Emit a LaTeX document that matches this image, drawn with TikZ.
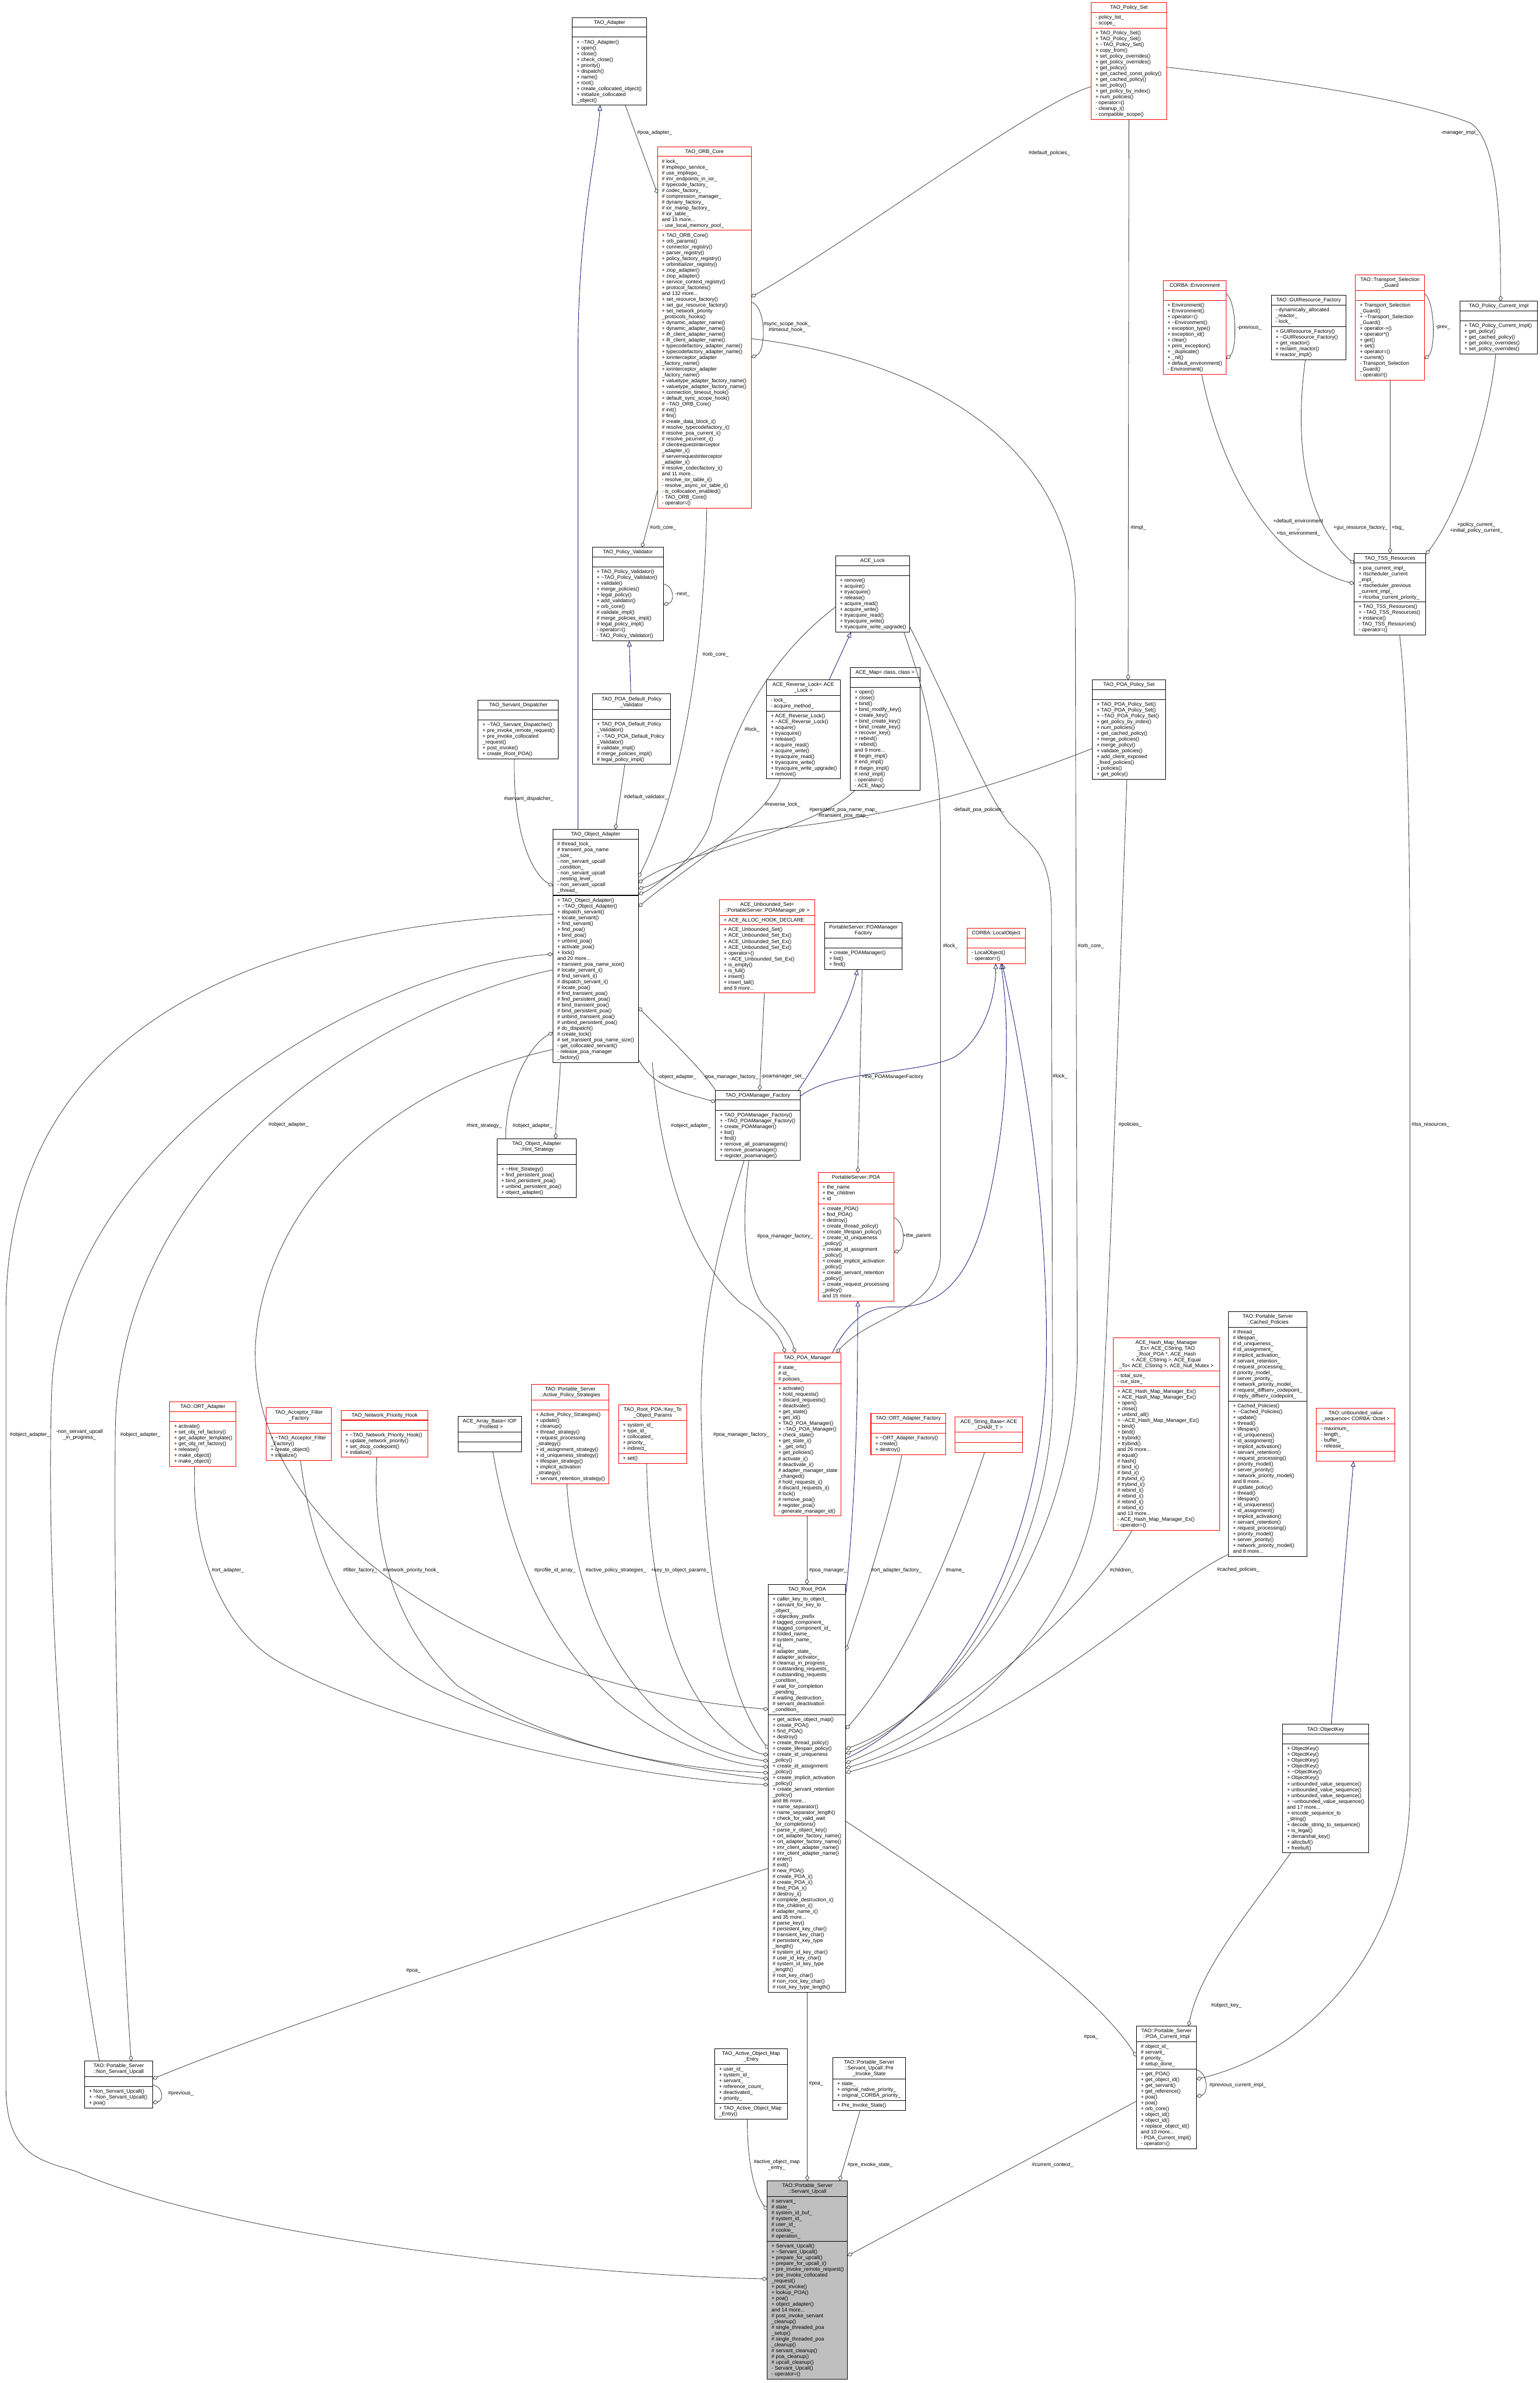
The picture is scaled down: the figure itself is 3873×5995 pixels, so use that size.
\documentclass[tikz,border=0pt]{standalone}
\usepackage{fontspec}
\setmainfont{Liberation Sans}
\usetikzlibrary{arrows.meta,calc}
\definecolor{edgec}{HTML}{404040}
\definecolor{inhc}{HTML}{191970}
\definecolor{redb}{HTML}{FF0000}
\definecolor{grayf}{HTML}{BFBFBF}
\newcommand\fs{\fontsize{2.6pt}{2.93pt}\selectfont}
\tikzset{
 bk/.style={draw=black,fill=white},
 rd/.style={draw=redb,fill=white},
 gy/.style={draw=black,fill=grayf},
 boxn/.style={inner sep=0pt,outer sep=0pt,anchor=north west,line width=0.3pt},
 ttl/.style={font=\fs,inner sep=0pt,anchor=north,align=center},
 txt/.style={font=\fs,inner sep=0pt,anchor=north west,align=left},
 lbl/.style={font=\fs,inner sep=0pt,align=center},
 agg/.style={draw=edgec,line width=0.25pt,-{Diamond[open,length=2.9pt,width=2.1pt,line width=0.25pt]}},
 inh/.style={draw=inhc,line width=0.25pt,-{Triangle[open,length=2.7pt,width=2.3pt,line width=0.25pt]}},
}
\catcode`\_=12
\newcommand\ubox[8]{%
 \pgfmathsetmacro\uhT{#6*14.65+10}%
 \pgfmathsetmacro\uhA{#7==0 ? 25 : #7*14.65+10}%
 \pgfmathsetmacro\uhM{#8==0 ? 25 : #8*14.65+10}%
 \pgfmathsetmacro\uhTot{\uhT+\uhA+\uhM}%
 \expandafter\xdef\csname bx#1\endcsname{#3}%
 \expandafter\xdef\csname by#1\endcsname{#4}%
 \node[#2,boxn,minimum width=#5*0.2pt,minimum height=\uhTot*0.2pt] (#1) at (#3,#4) {};
 \draw[#2,fill=none,line width=0.3pt] (#3,{#4+\uhT}) -- ++(#5,0);
 \draw[#2,fill=none,line width=0.3pt] (#3,{#4+\uhT+\uhA}) -- ++(#5,0);
 \coordinate (#1-t) at ({#3+#5/2},{#4+5});
 \coordinate (#1-a) at ({#3+10},{#4+\uhT+5});
 \coordinate (#1-m) at ({#3+10},{#4+\uhT+\uhA+5});
}
\newcommand\utext[4]{%
 \node[ttl] (#1-tt) at (#1-t) {\strut #2};
 \node[txt] (#1-at) at (#1-a) {\strut #3};
 \node[txt] (#1-mt) at (#1-m) {\strut #4};
}
\newcommand\bx[3]{($(#1.north west)+({#2-\csname bx#1\endcsname},{#3-\csname by#1\endcsname})$)}
\newcommand\lab[4]{\node[lbl] (#1) at (#2,#3) {#4};}
\newcommand\tld{\textasciitilde}
\begin{document}
\begin{tikzpicture}[x=0.2pt,y=-0.2pt]
\fill[white] (0,0) rectangle (3873,5995);
\useasboundingbox (0,0) rectangle (3873,5995);

% ---------------- boxes ----------------
\ubox{adapter}{bk}{1440}{44}{187}{1}{0}{11}
\utext{adapter}{TAO_Adapter}{}{+ \tld TAO_Adapter()\\+ open()\\+ close()\\+ check_close()\\+ priority()\\+ dispatch()\\+ name()\\+ root()\\+ create_collocated_object()\\+ initialize_collocated\\_object()}

\ubox{orbcore}{rd}{1654}{369}{236}{1}{12}{47}
\utext{orbcore}{TAO_ORB_Core}{\# lock_\\\# implrepo_service_\\\# use_implrepo_\\\# imr_endpoints_in_ior_\\\# typecode_factory_\\\# codec_factory_\\\# compression_manager_\\\# dynany_factory_\\\# ior_manip_factory_\\\# ior_table_\\and 15 more...\\- use_local_memory_pool_}{+ TAO_ORB_Core()\\+ orb_params()\\+ connector_registry()\\+ parser_registry()\\+ policy_factory_registry()\\+ orbinitializer_registry()\\+ ziop_adapter()\\+ ziop_adapter()\\+ service_context_registry()\\+ protocol_factories()\\and 132 more...\\+ set_resource_factory()\\+ set_gui_resource_factory()\\+ set_network_priority\\_protocols_hooks()\\+ dynamic_adapter_name()\\+ dynamic_adapter_name()\\+ ifr_client_adapter_name()\\+ ifr_client_adapter_name()\\+ typecodefactory_adapter_name()\\+ typecodefactory_adapter_name()\\+ iorinterceptor_adapter\\_factory_name()\\+ iorinterceptor_adapter\\_factory_name()\\+ valuetype_adapter_factory_name()\\+ valuetype_adapter_factory_name()\\+ connection_timeout_hook()\\+ default_sync_scope_hook()\\\# \tld TAO_ORB_Core()\\\# init()\\\# fini()\\\# create_data_block_i()\\\# resolve_typecodefactory_i()\\\# resolve_poa_current_i()\\\# resolve_picurrent_i()\\\# clientrequestinterceptor\\_adapter_i()\\\# serverrequestinterceptor\\_adapter_i()\\\# resolve_codecfactory_i()\\and 11 more...\\- resolve_ior_table_i()\\- resolve_async_ior_table_i()\\- is_collocation_enabled()\\- TAO_ORB_Core()\\- operator=()}

\ubox{policyset}{rd}{2745}{7}{190}{1}{2}{15}
\utext{policyset}{TAO_Policy_Set}{- policy_list_\\- scope_}{+ TAO_Policy_Set()\\+ TAO_Policy_Set()\\+ \tld TAO_Policy_Set()\\+ copy_from()\\+ set_policy_overrides()\\+ get_policy_overrides()\\+ get_policy()\\+ get_cached_const_policy()\\+ get_cached_policy()\\+ set_policy()\\+ get_policy_by_index()\\+ num_policies()\\- operator=()\\- cleanup_i()\\- compatible_scope()}

\ubox{env}{rd}{2926}{706}{159}{1}{0}{12}
\utext{env}{CORBA::Environment}{}{+ Environment()\\+ Environment()\\+ operator=()\\+ \tld Environment()\\+ exception_type()\\+ exception_id()\\+ clear()\\+ print_exception()\\+ _duplicate()\\+ _nil()\\+ default_environment()\\- Environment()}

\ubox{gui}{bk}{3198}{743}{188}{1}{3}{5}
\utext{gui}{TAO::GUIResource_Factory}{- dynamically_allocated\\_reactor_\\- lock_}{+ GUIResource_Factory()\\+ \tld GUIResource_Factory()\\+ get_reactor()\\+ reclaim_reactor()\\\# reactor_impl()}

\ubox{tsg}{rd}{3410}{692}{174}{2}{0}{13}
\utext{tsg}{TAO::Transport_Selection\\_Guard}{}{+ Transport_Selection\\_Guard()\\+ \tld Transport_Selection\\_Guard()\\+ operator->()\\+ operator*()\\+ get()\\+ set()\\+ operator=()\\+ current()\\- Transport_Selection\\_Guard()\\- operator!()}

\ubox{pcurimpl}{bk}{3673}{758}{195}{1}{0}{5}
\utext{pcurimpl}{TAO_Policy_Current_Impl}{}{+ TAO_Policy_Current_Impl()\\+ get_policy()\\+ get_cached_policy()\\+ get_policy_overrides()\\+ set_policy_overrides()}

\ubox{tss}{bk}{3407}{1392}{180}{1}{6}{5}
\utext{tss}{TAO_TSS_Resources}{+ poa_current_impl_\\+ rtscheduler_current\\_impl_\\+ rtscheduler_previous\\_current_impl_\\+ rtcorba_current_priority_}{+ TAO_TSS_Resources()\\+ \tld TAO_TSS_Resources()\\+ instance()\\- TAO_TSS_Resources()\\- operator=()}

\ubox{pvalid}{bk}{1490}{1377}{179}{1}{0}{12}
\utext{pvalid}{TAO_Policy_Validator}{}{+ TAO_Policy_Validator()\\+ \tld TAO_Policy_Validator()\\+ validate()\\+ merge_policies()\\+ legal_policy()\\+ add_validator()\\+ orb_core()\\\# validate_impl()\\\# merge_policies_impl()\\\# legal_policy_impl()\\- operator=()\\- TAO_Policy_Validator()}

\ubox{acelock}{bk}{2102}{1399}{186}{1}{0}{9}
\utext{acelock}{ACE_Lock}{}{+ remove()\\+ acquire()\\+ tryacquire()\\+ release()\\+ acquire_read()\\+ acquire_write()\\+ tryacquire_read()\\+ tryacquire_write()\\+ tryacquire_write_upgrade()}

\ubox{revlock}{bk}{1928}{1710}{186}{2}{2}{11}
\utext{revlock}{ACE_Reverse_Lock< ACE\\_Lock >}{- lock_\\- acquire_method_}{+ ACE_Reverse_Lock()\\+ \tld ACE_Reverse_Lock()\\+ acquire()\\+ tryacquire()\\+ release()\\+ acquire_read()\\+ acquire_write()\\+ tryacquire_read()\\+ tryacquire_write()\\+ tryacquire_write_upgrade()\\+ remove()}

\ubox{acemap}{bk}{2139}{1680}{175}{1}{0}{17}
\utext{acemap}{ACE_Map< class, class >}{}{+ open()\\+ close()\\+ bind()\\+ bind_modify_key()\\+ create_key()\\+ bind_create_key()\\+ bind_create_key()\\+ recover_key()\\+ rebind()\\+ rebind()\\and 9 more...\\\# begin_impl()\\\# end_impl()\\\# rbegin_impl()\\\# rend_impl()\\- operator=()\\- ACE_Map()}

\ubox{poapolset}{bk}{2748}{1710}{184}{1}{0}{13}
\utext{poapolset}{TAO_POA_Policy_Set}{}{+ TAO_POA_Policy_Set()\\+ TAO_POA_Policy_Set()\\+ \tld TAO_POA_Policy_Set()\\+ get_policy_by_index()\\+ num_policies()\\+ get_cached_policy()\\+ merge_policies()\\+ merge_policy()\\+ validate_policies()\\+ add_client_exposed\\_fixed_policies()\\+ policies()\\+ get_policy()}

\ubox{servdisp}{bk}{1203}{1762}{202}{1}{0}{6}
\utext{servdisp}{TAO_Servant_Dispatcher}{}{+ \tld TAO_Servant_Dispatcher()\\+ pre_invoke_remote_request()\\+ pre_invoke_collocated\\_request()\\+ post_invoke()\\+ create_Root_POA()}

\ubox{defvalid}{bk}{1491}{1746}{196}{2}{0}{7}
\utext{defvalid}{TAO_POA_Default_Policy\\_Validator}{}{+ TAO_POA_Default_Policy\\_Validator()\\+ \tld TAO_POA_Default_Policy\\_Validator()\\\# validate_impl()\\\# merge_policies_impl()\\\# legal_policy_impl()}

\ubox{objadapter}{bk}{1391}{2086}{215}{1}{9}{28}
\utext{objadapter}{TAO_Object_Adapter}{\# thread_lock_\\\# transient_poa_name\\_size_\\- non_servant_upcall\\_condition_\\- non_servant_upcall\\_nesting_level_\\- non_servant_upcall\\_thread_}{+ TAO_Object_Adapter()\\+ \tld TAO_Object_Adapter()\\+ dispatch_servant()\\+ locate_servant()\\+ find_servant()\\+ find_poa()\\+ bind_poa()\\+ unbind_poa()\\+ activate_poa()\\+ lock()\\and 20 more...\\+ transient_poa_name_size()\\\# locate_servant_i()\\\# find_servant_i()\\\# dispatch_servant_i()\\\# locate_poa()\\\# find_transient_poa()\\\# find_persistent_poa()\\\# bind_transient_poa()\\\# bind_persistent_poa()\\\# unbind_transient_poa()\\\# unbind_persistent_poa()\\\# do_dispatch()\\\# create_lock()\\\# set_transient_poa_name_size()\\- get_collocated_servant()\\- release_poa_manager\\_factory()}

\ubox{unbset}{rd}{1810}{2263}{240}{2}{1}{11}
\utext{unbset}{ACE_Unbounded_Set<\\ ::PortableServer::POAManager_ptr >}{+ ACE_ALLOC_HOOK_DECLARE}{+ ACE_Unbounded_Set()\\+ ACE_Unbounded_Set_Ex()\\+ ACE_Unbounded_Set_Ex()\\+ ACE_Unbounded_Set_Ex()\\+ operator=()\\+ \tld ACE_Unbounded_Set_Ex()\\+ is_empty()\\+ is_full()\\+ insert()\\+ insert_tail()\\and 9 more...}

\ubox{pmfactory}{bk}{2075}{2321}{194}{2}{0}{3}
\utext{pmfactory}{PortableServer::POAManager\\Factory}{}{+ create_POAManager()\\+ list()\\+ find()}

\ubox{localobj}{rd}{2433}{2335}{146}{1}{0}{2}
\utext{localobj}{CORBA::LocalObject}{}{- LocalObject()\\- operator=()}

\ubox{pomfactory}{bk}{1800}{2743}{213}{1}{0}{8}
\utext{pomfactory}{TAO_POAManager_Factory}{}{+ TAO_POAManager_Factory()\\+ \tld TAO_POAManager_Factory()\\+ create_POAManager()\\+ list()\\+ find()\\+ remove_all_poamanagers()\\+ remove_poamanager()\\+ register_poamanager()}

\ubox{hint}{bk}{1250}{2865}{200}{2}{0}{5}
\utext{hint}{TAO_Object_Adapter\\::Hint_Strategy}{}{+ \tld Hint_Strategy()\\+ find_persistent_poa()\\+ bind_persistent_poa()\\+ unbind_persistent_poa()\\+ object_adapter()}

\ubox{poa}{rd}{2058}{2950}{191}{1}{3}{16}
\utext{poa}{PortableServer::POA}{+ the_name\\+ the_children\\+ id}{+ create_POA()\\+ find_POA()\\+ destroy()\\+ create_thread_policy()\\+ create_lifespan_policy()\\+ create_id_uniqueness\\_policy()\\+ create_id_assignment\\_policy()\\+ create_implicit_activation\\_policy()\\+ create_servant_retention\\_policy()\\+ create_request_processing\\_policy()\\and 15 more...}

\ubox{poamgr}{rd}{1947}{3403}{168}{1}{3}{22}
\utext{poamgr}{TAO_POA_Manager}{\# state_\\\# id_\\\# policies_}{+ activate()\\+ hold_requests()\\+ discard_requests()\\+ deactivate()\\+ get_state()\\+ get_id()\\+ TAO_POA_Manager()\\+ \tld TAO_POA_Manager()\\+ check_state()\\+ get_state_i()\\+ _get_orb()\\+ get_policies()\\\# activate_i()\\\# deactivate_i()\\\# adapter_manager_state\\_changed()\\\# hold_requests_i()\\\# discard_requests_i()\\\# lock()\\\# remove_poa()\\\# register_poa()\\- generate_manager_id()}

\ubox{ortfactory}{rd}{2191}{3556}{188}{1}{0}{3}
\utext{ortfactory}{TAO::ORT_Adapter_Factory}{}{+ \tld ORT_Adapter_Factory()\\+ create()\\+ destroy()}

\ubox{strbase}{rd}{2403}{3564}{169}{2}{0}{0}
\utext{strbase}{ACE_String_Base< ACE\\_CHAR_T >}{}{}

\ubox{hashmap}{rd}{2800}{3366}{268}{5}{2}{24}
\utext{hashmap}{ACE_Hash_Map_Manager\\_Ex< ACE_CString, TAO\\_Root_POA *, ACE_Hash\\< ACE_CString >, ACE_Equal\\_To< ACE_CString >, ACE_Null_Mutex >}{- total_size_\\- cur_size_}{+ ACE_Hash_Map_Manager_Ex()\\+ ACE_Hash_Map_Manager_Ex()\\+ open()\\+ close()\\+ unbind_all()\\+ \tld ACE_Hash_Map_Manager_Ex()\\+ bind()\\+ bind()\\+ trybind()\\+ trybind()\\and 26 more...\\\# equal()\\\# hash()\\\# bind_i()\\\# bind_i()\\\# trybind_i()\\\# trybind_i()\\\# rebind_i()\\\# rebind_i()\\\# rebind_i()\\\# rebind_i()\\and 13 more...\\- ACE_Hash_Map_Manager_Ex()\\- operator=()}

\ubox{cachedpol}{bk}{3091}{3300}{197}{2}{12}{26}
\utext{cachedpol}{TAO::Portable_Server\\::Cached_Policies}{\# thread_\\\# lifespan_\\\# id_uniqueness_\\\# id_assignment_\\\# implicit_activation_\\\# servant_retention_\\\# request_processing_\\\# priority_model_\\\# server_priority_\\\# network_priority_model_\\\# request_diffserv_codepoint_\\\# reply_diffserv_codepoint_}{+ Cached_Policies()\\+ \tld Cached_Policies()\\+ update()\\+ thread()\\+ lifespan()\\+ id_uniqueness()\\+ id_assignment()\\+ implicit_activation()\\+ servant_retention()\\+ request_processing()\\+ priority_model()\\+ server_priority()\\+ network_priority_model()\\and 8 more...\\\# update_policy()\\+ thread()\\+ lifespan()\\+ id_uniqueness()\\+ id_assignment()\\+ implicit_activation()\\+ servant_retention()\\+ request_processing()\\+ priority_model()\\+ server_priority()\\+ network_priority_model()\\and 8 more...}

\ubox{uvseq}{rd}{3312}{3543}{197}{2}{4}{0}
\utext{uvseq}{TAO::unbounded_value\\_sequence< CORBA::Octet >}{- maximum_\\- length_\\- buffer_\\- release_}{}

\ubox{objectkey}{bk}{3227}{4338}{216}{1}{0}{18}
\utext{objectkey}{TAO::ObjectKey}{}{+ ObjectKey()\\+ ObjectKey()\\+ ObjectKey()\\+ ObjectKey()\\+ \tld ObjectKey()\\+ ObjectKey()\\+ unbounded_value_sequence()\\+ unbounded_value_sequence()\\+ unbounded_value_sequence()\\+ \tld unbounded_value_sequence()\\and 17 more...\\+ encode_sequence_to\\_string()\\+ decode_string_to_sequence()\\+ is_legal()\\+ demarshal_key()\\+ allocbuf()\\+ freebuf()}

\ubox{ortadapter}{rd}{427}{3527}{167}{1}{0}{7}
\utext{ortadapter}{TAO::ORT_Adapter}{}{+ activate()\\+ set_obj_ref_factory()\\+ get_adapter_template()\\+ get_obj_ref_factory()\\+ release()\\+ make_object()\\+ make_object()}

\ubox{accfilter}{rd}{670}{3541}{164}{2}{0}{4}
\utext{accfilter}{TAO_Acceptor_Filter\\_Factory}{}{+ \tld TAO_Acceptor_Filter\\_Factory()\\+ create_object()\\+ initialize()}

\ubox{nethook}{rd}{858}{3548}{219}{1}{0}{4}
\utext{nethook}{TAO_Network_Priority_Hook}{}{+ \tld TAO_Network_Priority_Hook()\\+ update_network_priority()\\+ set_dscp_codepoint()\\+ initialize()}

\ubox{arraybase}{bk}{1152}{3563}{160}{2}{0}{0}
\utext{arraybase}{ACE_Array_Base< IOP\\::ProfileId >}{}{}

\ubox{aps}{rd}{1337}{3483}{195}{2}{0}{12}
\utext{aps}{TAO::Portable_Server\\::Active_Policy_Strategies}{}{+ Active_Policy_Strategies()\\+ update()\\+ cleanup()\\+ thread_strategy()\\+ request_processing\\_strategy()\\+ id_assignment_strategy()\\+ id_uniqueness_strategy()\\+ lifespan_strategy()\\+ implicit_activation\\_strategy()\\+ servant_retention_strategy()}

\ubox{keyparams}{rd}{1556}{3534}{172}{2}{5}{1}
\utext{keyparams}{TAO_Root_POA::Key_To\\_Object_Params}{+ system_id_\\+ type_id_\\+ collocated_\\+ priority_\\+ indirect_}{+ set()}

\ubox{rootpoa}{bk}{1933}{3986}{195}{1}{20}{47}
\utext{rootpoa}{TAO_Root_POA}{+ caller_key_to_object_\\+ servant_for_key_to\\_object_\\+ objectkey_prefix\\\# tagged_component_\\\# tagged_component_id_\\\# folded_name_\\\# system_name_\\\# id_\\\# adapter_state_\\\# adapter_activator_\\\# cleanup_in_progress_\\\# outstanding_requests_\\\# outstanding_requests\\_condition_\\\# wait_for_completion\\_pending_\\\# waiting_destruction_\\\# servant_deactivation\\_condition_}{+ get_active_object_map()\\+ create_POA()\\+ find_POA()\\+ destroy()\\+ create_thread_policy()\\+ create_lifespan_policy()\\+ create_id_uniqueness\\_policy()\\+ create_id_assignment\\_policy()\\+ create_implicit_activation\\_policy()\\+ create_servant_retention\\_policy()\\and 86 more...\\+ name_separator()\\+ name_separator_length()\\+ check_for_valid_wait\\_for_completions()\\+ parse_ir_object_key()\\+ ort_adapter_factory_name()\\+ ort_adapter_factory_name()\\+ imr_client_adapter_name()\\+ imr_client_adapter_name()\\\# enter()\\\# exit()\\\# new_POA()\\\# create_POA_i()\\\# create_POA_i()\\\# find_POA_i()\\\# destroy_i()\\\# complete_destruction_i()\\\# the_children_i()\\\# adapter_name_i()\\and 35 more...\\\# parse_key()\\\# persistent_key_char()\\\# transient_key_char()\\\# persistent_key_type\\_length()\\\# system_id_key_char()\\\# user_id_key_char()\\\# system_id_key_type\\_length()\\\# root_key_char()\\\# non_root_key_char()\\\# root_key_type_length()}

\ubox{pcimpl}{bk}{2859}{5097}{151}{2}{4}{13}
\utext{pcimpl}{TAO::Portable_Server\\::POA_Current_Impl}{\# object_id_\\\# servant_\\\# priority_\\\# setup_done_}{+ get_POA()\\+ get_object_id()\\+ get_servant()\\+ get_reference()\\+ poa()\\+ poa()\\+ orb_core()\\+ object_id()\\+ object_id()\\+ replace_object_id()\\and 10 more...\\- POA_Current_Impl()\\- operator=()}

\ubox{nonservant}{bk}{213}{5185}{171}{2}{0}{3}
\utext{nonservant}{TAO::Portable_Server\\::Non_Servant_Upcall}{}{+ Non_Servant_Upcall()\\+ \tld Non_Servant_Upcall()\\+ poa()}

\ubox{aome}{bk}{1798}{5154}{183}{2}{6}{2}
\utext{aome}{TAO_Active_Object_Map\\_Entry}{+ user_id_\\+ system_id_\\+ servant_\\+ reference_count_\\+ deactivated_\\+ priority_}{+ TAO_Active_Object_Map\\_Entry()}

\ubox{preinv}{bk}{2095}{5176}{183}{3}{3}{1}
\utext{preinv}{TAO::Portable_Server\\::Servant_Upcall::Pre\\_Invoke_State}{+ state_\\+ original_native_priority_\\+ original_CORBA_priority_}{+ Pre_Invoke_State()}

\ubox{servupcall}{gy}{1930}{5486}{202}{2}{7}{23}
\utext{servupcall}{TAO::Portable_Server\\::Servant_Upcall}{\# servant_\\\# state_\\\# system_id_buf_\\\# system_id_\\\# user_id_\\\# cookie_\\\# operation_}{+ Servant_Upcall()\\+ \tld Servant_Upcall()\\+ prepare_for_upcall()\\+ prepare_for_upcall_i()\\+ pre_invoke_remote_request()\\+ pre_invoke_collocated\\_request()\\+ post_invoke()\\+ lookup_POA()\\+ poa()\\+ object_adapter()\\and 14 more...\\\# post_invoke_servant\\_cleanup()\\\# single_threaded_poa\\_setup()\\\# single_threaded_poa\\_cleanup()\\\# servant_cleanup()\\\# poa_cleanup()\\\# upcall_cleanup()\\- Servant_Upcall()\\- operator=()}

% ---------------- inheritance ----------------
\draw[inh] \bx{objadapter}{1454}{2086} -- (1454,900) .. controls (1454,560) and (1500,400) .. \bx{adapter}{1510}{264.8};
\draw[inh] \bx{defvalid}{1587}{1746} -- \bx{pvalid}{1583}{1612.5};
\draw[inh] \bx{revlock}{2086}{1710} -- \bx{acelock}{2141}{1590.5};
\draw[inh] \bx{pomfactory}{2008}{2743} .. controls (2090,2620) and (2140,2520) .. \bx{pmfactory}{2157}{2439.25};
\draw[inh] \bx{pomfactory}{2013}{2758} .. controls (2100,2690) and (2300,2705) .. (2400,2660) .. controls (2480,2610) and (2505,2500) .. \bx{localobj}{2505}{2424};
\draw[inh] \bx{poamgr}{2094}{3403} .. controls (2130,3330) and (2180,3285) .. (2250,3288) .. controls (2380,3290) and (2440,3200) .. (2480,3050) .. controls (2540,2800) and (2540,2580) .. \bx{localobj}{2518}{2424};
\draw[inh] \bx{rootpoa}{2128}{4424} .. controls (2400,4300) and (2620,3900) .. (2632,3440) .. controls (2640,3000) and (2560,2600) .. \bx{localobj}{2521}{2424};
\draw[inh] \bx{rootpoa}{2128}{4008} .. controls (2150,3800) and (2157,3550) .. (2157,3440) -- \bx{poa}{2158}{3273};
\draw[inh] \bx{objectkey}{3349}{4338} -- \bx{uvseq}{3405}{3676};

% ---------------- aggregation ----------------
\draw[agg] \bx{adapter}{1573}{264.8} -- \bx{orbcore}{1654}{487};
\draw[agg] \bx{policyset}{2745}{218} .. controls (2600,260) and (2150,600) .. \bx{orbcore}{1890}{747};
\draw[agg] \bx{policyset}{2935}{169} .. controls (3250,205) and (3550,250) .. (3700,310) .. controls (3775,360) and (3775,600) .. \bx{pcurimpl}{3775}{758};
\draw[agg] \bx{orbcore}{1890}{760} .. controls (1928,770) and (1928,885) .. \bx{orbcore}{1890}{899};
\draw[agg] \bx{orbcore}{1654}{1234} -- \bx{pvalid}{1615}{1377};
\draw[agg] \bx{pvalid}{1669}{1469} .. controls (1697,1475) and (1697,1515) .. \bx{pvalid}{1669}{1521};
\draw[agg] \bx{orbcore}{1778}{1278} .. controls (1770,1700) and (1700,2020) .. \bx{objadapter}{1606}{2207};
\draw[agg] \bx{acemap}{2150}{1988.65} .. controls (2050,2090) and (1700,2150) .. \bx{objadapter}{1606}{2222};
\draw[agg] \bx{acelock}{2102}{1527} .. controls (1900,1680) and (1820,1900) .. (1790,2060) .. controls (1760,2160) and (1660,2222) .. \bx{objadapter}{1606}{2236};
\draw[agg] \bx{poapolset}{2748}{1883} .. controls (2450,2000) and (2200,2060) .. (1950,2085) .. controls (1760,2110) and (1660,2230) .. \bx{objadapter}{1606}{2250};
\draw[agg] \bx{revlock}{1963}{1959.75} .. controls (1930,2060) and (1700,2200) .. \bx{objadapter}{1606}{2282};
\draw[agg] \bx{servdisp}{1294}{1909.55} .. controls (1290,2100) and (1340,2200) .. \bx{objadapter}{1391}{2229};
\draw[agg] \bx{defvalid}{1572}{1922.85} -- \bx{objadapter}{1548}{2086};
\draw[agg] \bx{objadapter}{1606}{2665} .. controls (1640,2730) and (1700,2745) .. \bx{pomfactory}{1800}{2772};
\draw[agg] \bx{pomfactory}{1800}{2743} .. controls (1760,2680) and (1650,2580) .. \bx{objadapter}{1606}{2534};
\draw[agg] \bx{unbset}{1923}{2498.1} -- \bx{pomfactory}{1911}{2743};
\draw[agg] \bx{pmfactory}{2169}{2439.25} -- \bx{poa}{2158}{2950};
\draw[agg] \bx{poa}{2249}{3063} .. controls (2278,3075) and (2278,3140) .. \bx{poa}{2249}{3151};
\draw[agg] \bx{objadapter}{1641}{2672.7} .. controls (1660,2900) and (1720,3150) .. (1863,3278) .. controls (1930,3320) and (1962,3360) .. \bx{poamgr}{1975}{3403};
\draw[agg] \bx{pomfactory}{1884}{2919.85} .. controls (1860,3100) and (1880,3240) .. (1925,3290) .. controls (1970,3330) and (1992,3370) .. \bx{poamgr}{2000}{3403};
\draw[agg] \bx{pomfactory}{1872}{2919.85} .. controls (1800,3150) and (1755,3350) .. (1765,3609) .. controls (1775,3950) and (1820,4250) .. \bx{rootpoa}{1933}{4400};
\draw[agg] \bx{acelock}{2274}{1590.5} .. controls (2330,1750) and (2366,1900) .. (2366,2100) -- (2366,3150) .. controls (2366,3300) and (2200,3300) .. \bx{poamgr}{2104}{3403};
\draw[agg] \bx{orbcore}{1890}{852} .. controls (2300,900) and (2690,1100) .. (2705,1500) -- (2710,3400) .. controls (2710,3900) and (2400,4300) .. \bx{rootpoa}{2128}{4400};
\draw[agg] \bx{policyset}{2840}{300.7} -- \bx{poapolset}{2838}{1710};
\draw[agg] \bx{poapolset}{2835}{1960.1} .. controls (2805,2800) and (2790,3300) .. (2765,3700) .. controls (2730,4100) and (2400,4370) .. \bx{rootpoa}{2128}{4448};
\draw[agg] \bx{acelock}{2288}{1575} .. controls (2400,1800) and (2480,2000) .. (2540,2072) .. controls (2600,2130) and (2645,2150) .. (2645,2300) -- (2648,3500) .. controls (2650,3900) and (2400,4300) .. \bx{rootpoa}{2128}{4412};
\draw[agg] \bx{poamgr}{2030}{3813.9} -- \bx{rootpoa}{2030}{3986};
\draw[agg] \bx{ortfactory}{2269}{3659.6} .. controls (2230,3850) and (2160,4050) .. \bx{rootpoa}{2128}{4152};
\draw[agg] \bx{strbase}{2477}{3653.3} .. controls (2380,3950) and (2260,4200) .. \bx{rootpoa}{2128}{4350};
\draw[agg] \bx{hashmap}{2848}{3850.15} .. controls (2760,4000) and (2500,4280) .. \bx{rootpoa}{2128}{4436};
\draw[agg] \bx{cachedpol}{3091}{3910} .. controls (2900,4000) and (2600,4330) .. \bx{rootpoa}{2128}{4460};
\draw[agg] \bx{ortadapter}{490}{3689.2} .. controls (480,3900) and (560,4100) .. (700,4180) .. controls (1000,4350) and (1600,4475) .. \bx{rootpoa}{1933}{4490};
\draw[agg] \bx{accfilter}{756}{3673.9} .. controls (790,3950) and (900,4150) .. (1100,4250) .. controls (1400,4390) and (1700,4450) .. \bx{rootpoa}{1933}{4475};
\draw[agg] \bx{nethook}{948}{3666.25} .. controls (935,3900) and (1000,4100) .. (1150,4240) .. controls (1400,4400) and (1700,4450) .. \bx{rootpoa}{1933}{4460};
\draw[agg] \bx{arraybase}{1240}{3652.3} .. controls (1290,3950) and (1400,4150) .. (1550,4280) .. controls (1700,4400) and (1850,4440) .. \bx{rootpoa}{1933}{4445};
\draw[agg] \bx{aps}{1426}{3733.1} .. controls (1440,3950) and (1500,4150) .. (1650,4300) .. controls (1750,4390) and (1850,4422) .. \bx{rootpoa}{1933}{4430};
\draw[agg] \bx{keyparams}{1627}{3681.2} .. controls (1630,3950) and (1680,4200) .. (1800,4330) .. controls (1860,4392) and (1900,4410) .. \bx{rootpoa}{1933}{4415};
\draw[agg] \bx{objadapter}{1391}{2640} .. controls (900,2750) and (650,3100) .. (642,3400) .. controls (640,3900) and (1300,4250) .. \bx{rootpoa}{1933}{4300};
\draw[agg] \bx{tss}{3521}{1597.8} .. controls (3545,1800) and (3547,2200) .. (3547,2600) -- (3547,4500) .. controls (3547,4900) and (3300,5160) .. \bx{pcimpl}{3010}{5231};
\draw[agg] \bx{objectkey}{3247}{4661.35} .. controls (3150,4800) and (3020,4950) .. \bx{pcimpl}{2990}{5097};
\draw[agg] \bx{pcimpl}{3010}{5207} .. controls (3040,5215) and (3040,5268) .. \bx{pcimpl}{3010}{5274};
\draw[agg] \bx{rootpoa}{2128}{4582} .. controls (2400,4760) and (2750,5000) .. \bx{pcimpl}{2859}{5174};
\draw[agg] \bx{pcimpl}{2859}{5286} -- \bx{servupcall}{2132}{5675};
\draw[agg] \bx{rootpoa}{2031}{5012.2} -- \bx{servupcall}{2031}{5486};
\draw[agg] \bx{preinv}{2164}{5308.55} -- \bx{servupcall}{2112}{5486};
\draw[agg] \bx{aome}{1880}{5330.5} .. controls (1880,5450) and (1900,5520) .. \bx{servupcall}{1930}{5560};
\draw[agg] \bx{objadapter}{1391}{2300} .. controls (900,2320) and (15,2450) .. (15,3300) -- (15,5250) .. controls (15,5420) and (100,5435) .. (190,5462) .. controls (600,5640) and (1500,5725) .. \bx{servupcall}{1930}{5733};
\draw[agg] \bx{nonservant}{250}{5185} .. controls (130,4500) and (120,3800) .. (130,3500) .. controls (150,2900) and (900,2440) .. \bx{objadapter}{1391}{2400};
\draw[agg] \bx{objadapter}{1391}{2440} .. controls (1000,2520) and (300,2900) .. (290,3600) .. controls (285,4300) and (310,4900) .. \bx{nonservant}{330}{5185};
\draw[agg] \bx{rootpoa}{1933}{4700} .. controls (1300,4900) and (700,5100) .. \bx{nonservant}{384}{5230};
\draw[agg] \bx{nonservant}{384}{5245} .. controls (412,5250) and (412,5285) .. \bx{nonservant}{384}{5290};
\draw[agg] \bx{objadapter}{1410}{2672.7} .. controls (1406,2760) and (1398,2820) .. \bx{hint}{1398}{2865};
\draw[agg] \bx{hint}{1272}{2865} .. controls (1272,2740) and (1330,2630) .. \bx{objadapter}{1391}{2597};
\draw[agg] \bx{env}{3085}{739} .. controls (3112,760) and (3112,880) .. \bx{env}{3085}{903};
\draw[agg] \bx{env}{3023}{941.5} .. controls (3060,1130) and (3150,1320) .. (3270,1405) .. controls (3320,1440) and (3370,1460) .. \bx{tss}{3407}{1468};
\draw[agg] \bx{gui}{3284}{904.9} .. controls (3250,1150) and (3300,1330) .. \bx{tss}{3407}{1418};
\draw[agg] \bx{tsg}{3497}{956.75} -- \bx{tss}{3497}{1392};
\draw[agg] \bx{tsg}{3584}{739} .. controls (3611,760) and (3611,880) .. \bx{tsg}{3584}{903};
\draw[agg] \bx{pcurimpl}{3763}{890.9} .. controls (3740,1100) and (3660,1300) .. \bx{tss}{3587}{1395};

% ---------------- labels ----------------
\lab{l1}{1647}{334}{\#poa_adapter_}
\lab{l2}{2640}{385}{\#default_policies_}
\lab{l3}{3672}{334}{-manager_impl_}
\lab{l4}{1980}{823}{\#sync_scope_hook_\\\#timeout_hook_}
\lab{l5}{1668}{1328}{\#orb_core_}
\lab{l6}{1717}{1495}{-next_}
\lab{l7}{1800}{1647}{\#orb_core_}
\lab{l8}{1892}{1835}{\#lock_}
\lab{l9}{1969}{2025}{\#reverse_lock_}
\lab{l10}{2122}{2045}{\#persistent_poa_name_map_\\\#transient_poa_map_}
\lab{l11}{2462}{2038}{-default_poa_policies_}
\lab{l12}{1330}{2010}{\#servant_dispatcher_}
\lab{l13}{1625}{2005}{\#default_validator_}
\lab{l14}{1703}{2709}{-object_adapter_}
\lab{l15}{1839}{2709}{-poa_manager_factory_}
\lab{l16}{1969}{2709}{-poamanager_set_}
\lab{l17}{2245}{2709}{+the_POAManagerFactory}
\lab{l18}{2307}{3109}{+the_parent}
\lab{l19}{1738}{2832}{\#object_adapter_}
\lab{l20}{1975}{3110}{\#poa_manager_factory_}
\lab{l21}{1865}{3609}{\#poa_manager_factory_}
\lab{l22}{2391}{2380}{\#lock_}
\lab{l23}{2744}{2380}{\#orb_core_}
\lab{l24}{2864}{1328}{\#impl_}
\lab{l25}{2843}{2830}{\#policies_}
\lab{l26}{2667}{2708}{\#lock_}
\lab{l27}{2083}{3951}{\#poa_manager_}
\lab{l28}{2255}{3951}{\#ort_adapter_factory_}
\lab{l29}{2403}{3951}{\#name_}
\lab{l30}{2822}{3951}{\#children_}
\lab{l31}{3115}{3949}{\#cached_policies_}
\lab{l32}{573}{3951}{\#ort_adapter_}
\lab{l33}{906}{3951}{\#filter_factory_}
\lab{l34}{1034}{3951}{\#network_priority_hook_}
\lab{l35}{1396}{3951}{\#profile_id_array_}
\lab{l36}{1549}{3951}{\#active_policy_strategies_}
\lab{l37}{1711}{3951}{+key_to_object_params_}
\lab{l38}{353}{3609}{\#object_adapter_}
\lab{l39}{75}{3609}{\#object_adapter_}
\lab{l40}{200}{3609}{-non_servant_upcall\\_in_progress_}
\lab{l41}{726}{2830}{\#object_adapter_}
\lab{l42}{3599}{2830}{\#tss_resources_}
\lab{l43}{3085}{5046}{\#object_key_}
\lab{l44}{3114}{5246}{\#previous_current_impl_}
\lab{l45}{2745}{5125}{\#poa_}
\lab{l46}{2648}{5446}{\#current_context_}
\lab{l47}{2053}{5242}{\#poa_}
\lab{l48}{2189}{5446}{\#pre_invoke_state_}
\lab{l49}{1954}{5446}{\#active_object_map\\_entry_}
\lab{l50}{1040}{4958}{\#poa_}
\lab{l51}{455}{5267}{\#previous_}
\lab{l52}{1340}{2832}{\#object_adapter_}
\lab{l53}{1218}{2832}{\#hint_strategy_}
\lab{l54}{3143}{824}{-previous_}
\lab{l55}{3266}{1327}{+default_environment\\_\\+tss_environment_}
\lab{l56}{3423}{1328}{+gui_resource_factory_}
\lab{l57}{3517}{1328}{+tsg_}
\lab{l58}{3630}{824}{-prev_}
\lab{l59}{3714}{1328}{+policy_current_\\+initial_policy_current_}
\end{tikzpicture}
\end{document}
